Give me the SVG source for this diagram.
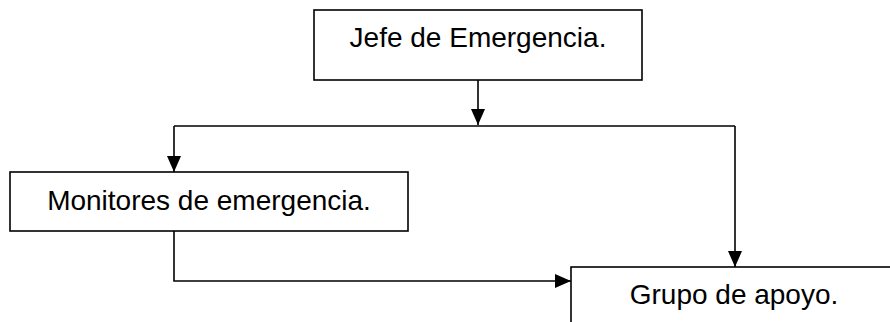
<svg xmlns="http://www.w3.org/2000/svg" width="890" height="322" viewBox="0 0 890 322">
<defs>
<style>
.box{fill:#fff;stroke:#000;stroke-width:1.6}
.lbl{font-family:"Liberation Sans",Arial,sans-serif;font-size:28px;fill:#000;text-anchor:middle}
.con{fill:none;stroke:#000;stroke-width:1.6}
</style>
<marker id="ah" markerUnits="userSpaceOnUse" markerWidth="16" markerHeight="14" viewBox="0 0 16 14" refX="16" refY="7" orient="auto">
<path d="M0,0 L16,7 L0,14 Z" fill="#000"/>
</marker>
</defs>
<rect width="890" height="322" fill="#fff"/>
<g id="connectors">
<line class="con" x1="478" y1="80" x2="478" y2="125" marker-end="url(#ah)"/>
<line class="con" x1="174" y1="126" x2="735" y2="126"/>
<line class="con" x1="174" y1="126" x2="174" y2="172" marker-end="url(#ah)"/>
<line class="con" x1="735" y1="126" x2="735" y2="267" marker-end="url(#ah)"/>
<polyline class="con" points="174,231 174,281 571,281" marker-end="url(#ah)"/>
</g>
<g id="node-jefe">
<rect class="box" x="314" y="10" width="328" height="70"/>
<text class="lbl" x="478" y="47">Jefe de Emergencia.</text>
</g>
<g id="node-monitores">
<rect class="box" x="10" y="172" width="398" height="59"/>
<text class="lbl" x="209" y="210">Monitores de emergencia.</text>
</g>
<g id="node-grupo">
<rect class="box" x="571" y="267" width="326" height="70"/>
<text class="lbl" x="734" y="304">Grupo de apoyo.</text>
</g>
</svg>
